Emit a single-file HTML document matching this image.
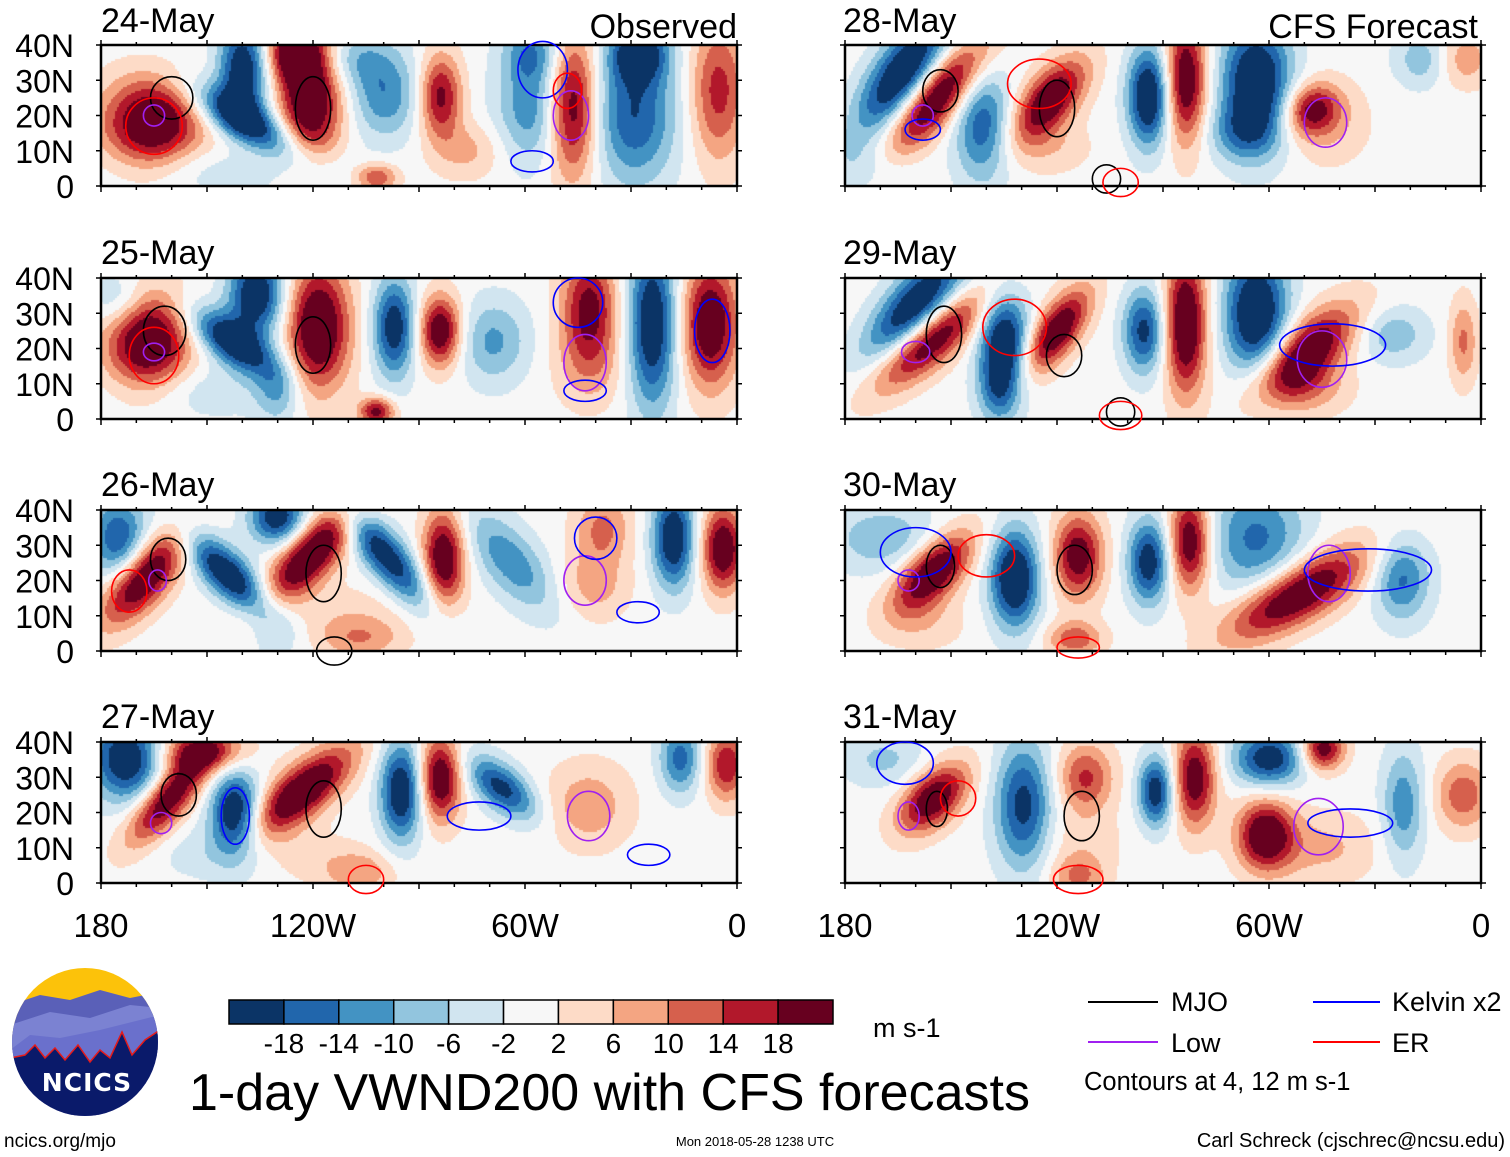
<!DOCTYPE html>
<html><head><meta charset="utf-8">
<style>
html,body{margin:0;padding:0;background:#fff;}
body{width:1510px;height:1157px;position:relative;overflow:hidden;font-family:"Liberation Sans",sans-serif;}
canvas{position:absolute;}
#ov{position:absolute;left:0;top:0;}
</style></head>
<body>
<canvas id="c0" width="636" height="141" style="left:101px;top:45px"></canvas>
<canvas id="c1" width="636" height="141" style="left:101px;top:278px"></canvas>
<canvas id="c2" width="636" height="141" style="left:101px;top:510px"></canvas>
<canvas id="c3" width="636" height="141" style="left:101px;top:742px"></canvas>
<canvas id="c4" width="636" height="141" style="left:845px;top:45px"></canvas>
<canvas id="c5" width="636" height="141" style="left:845px;top:278px"></canvas>
<canvas id="c6" width="636" height="141" style="left:845px;top:510px"></canvas>
<canvas id="c7" width="636" height="141" style="left:845px;top:742px"></canvas>
<svg id="ov" width="1510" height="1157" xmlns="http://www.w3.org/2000/svg">
  <g id="frames"></g>
  <g font-family="Liberation Sans, sans-serif" fill="#000">
    <text x="101" y="32" font-size="34">24-May</text>
    <text x="737" y="38" font-size="34" text-anchor="end">Observed</text>
    <text x="101" y="264" font-size="34">25-May</text>
    <text x="101" y="496" font-size="34">26-May</text>
    <text x="101" y="728" font-size="34">27-May</text>
    <text x="843" y="32" font-size="34">28-May</text>
    <text x="1478" y="38" font-size="34" text-anchor="end">CFS Forecast</text>
    <text x="843" y="264" font-size="34">29-May</text>
    <text x="843" y="496" font-size="34">30-May</text>
    <text x="843" y="728" font-size="34">31-May</text>
  </g>
  <g id="ylabels" font-family="Liberation Sans, sans-serif" font-size="32" text-anchor="end"></g>
  <g id="xlabels" font-family="Liberation Sans, sans-serif" font-size="33" text-anchor="middle"></g>
  <g id="cbar"></g>
  <text x="873" y="1037" font-family="Liberation Sans, sans-serif" font-size="27">m s-1</text>
  <text x="189" y="1110" font-family="Liberation Sans, sans-serif" font-size="52">1-day VWND200 with CFS forecasts</text>
  <g font-family="Liberation Sans, sans-serif" font-size="27">
    <line x1="1088" y1="1002" x2="1158" y2="1002" stroke="#000" stroke-width="2"/>
    <text x="1171" y="1011">MJO</text>
    <line x1="1313" y1="1002" x2="1380" y2="1002" stroke="#0000ff" stroke-width="2"/>
    <text x="1392" y="1011">Kelvin x2</text>
    <line x1="1088" y1="1042" x2="1158" y2="1042" stroke="#a020f0" stroke-width="2"/>
    <text x="1171" y="1052">Low</text>
    <line x1="1313" y1="1042" x2="1380" y2="1042" stroke="#ff0000" stroke-width="2"/>
    <text x="1392" y="1052">ER</text>
    <text x="1084" y="1090" font-size="25.5">Contours at 4, 12 m s-1</text>
  </g>
  <g>
    <defs>
      <clipPath id="lc"><ellipse cx="85" cy="1042" rx="73" ry="74"/></clipPath>
    </defs>
    <g clip-path="url(#lc)">
      <rect x="10" y="966" width="150" height="152" fill="#fcc20a"/>
      <path d="M10 1005 L40 995 L70 1000 L100 990 L130 998 L160 992 L160 1120 L10 1120Z" fill="#5a60b8"/>
      <path d="M10 1025 L50 1012 L90 1018 L130 1005 L160 1008 L160 1120 L10 1120Z" fill="#7b82d2"/>
      <path d="M10 1050 L30 1035 L60 1038 L100 1030 L160 1015 L160 1120 L10 1120Z" fill="#6a70cc"/>
      <path d="M10 1058 L25 1055 L35 1045 L45 1058 L55 1048 L65 1060 L78 1045 L90 1062 L100 1050 L110 1058 L122 1032 L132 1055 L145 1040 L160 1030 L160 1120 L10 1120Z" fill="#0a1a6a" stroke="#e51a1a" stroke-width="1.5"/>
    </g>
    <text x="87" y="1091" font-family="DejaVu Sans, sans-serif" font-weight="bold" font-size="25" fill="#fff" text-anchor="middle" letter-spacing="1">NCICS</text>
  </g>
  <text x="4" y="1147" font-family="Liberation Sans, sans-serif" font-size="19">ncics.org/mjo</text>
  <text x="755" y="1146" font-family="Liberation Sans, sans-serif" font-size="13" text-anchor="middle">Mon 2018-05-28 1238 UTC</text>
  <text x="1505" y="1147" font-family="Liberation Sans, sans-serif" font-size="20" text-anchor="end">Carl Schreck (cjschrec@ncsu.edu)</text>
  <g id="contours"></g>
</svg>
<script>
// ---------- data ----------
const levels = [-18,-14,-10,-6,-2,2,6,10,14,18];
const levelLabels = ["-18","-14","-10","-6","-2","2","6","10","14","18"];
const palette = ["#0b3466","#2166ac","#4393c3","#92c5de","#d1e5f0","#f7f7f7","#fddbc7","#f4a582","#d6604d","#b2182b","#67001f"];
const lonTicks = [-180,-120,-60,0];
const lonTickLabels = ["180","120W","60W","0"];
const latTicks = [0,10,20,30,40];
const latTickLabels = ["0","10N","20N","30N","40N"];
// anomaly blobs: [lon, lat, amplitude m/s, sigmaMajor deg, sigmaMinor deg, angle deg]
const p24 = [[-165.6,17.7,26,7,6.5,0],[-139.7,33,-24,7,3.5,90],[-138.5,18,-24,9,3,-31],[-120.8,25.4,26,9,4.5,90],[-125.5,38,20,4,4,0],[-99.6,25.4,-13,6,5,90],[-109,36,-9,6,4,0],[-84,25.4,20,6,3,90],[-58.3,22.5,-13,8,5,90],[-46.5,22.5,24,10,3.5,90],[-58,38,-11,4,4,0],[-29,20.6,-18,10,6,90],[-27.7,38,-20,4,4,0],[-5.3,27,16,10,4,90],[-146.8,5.3,-6,15,4,0],[-102,2.4,14,3,2,0],[-135,11,5,8,4,0],[-76,10,7,5,4,0]];
const p25 = [[-166.8,22,26,7,6,90],[-175,33.5,-9,4,4,0],[-136,35.4,-24,6,4,90],[-143,22,-24,7,3,-35],[-118.5,26,26,9,4.5,90],[-97,26,-22,7,3,90],[-84,25,24,5,3,90],[-69,22,-11,6,5,90],[-41.8,31.6,20,8,4,90],[-24,27,-24,12,3.5,90],[-7.6,27,24,9,4,90],[-41.8,14.5,6,6,5,90],[-130,8,-9,5,3,90],[-102,2.1,20,2.5,2,0],[-152.6,8,-5,12,4,0]];
const p26 = [[-175,32,-18,6,4,90],[-168,20.6,26,8,3.5,50],[-144,21.6,-24,8,3,-45],[-130,38,-22,4,4,0],[-120.8,27.3,26,10,3.5,48],[-99.6,27.3,-22,10,3,-50],[-83,26.4,24,7,3,90],[-64,25.4,-13,9,4,-50],[-38,35,11,5,4,90],[-40.6,18.7,8,5,5,0],[-18,32,-24,7,3,90],[-4,29,24,6,3,90],[-106.7,3.4,9,6,3,0],[-111,11,4,10,4,0],[-131.5,10,-6,6,4,90]];
const p27 = [[-172.7,35.4,-24,6,5,90],[-161,24,24,8,3,50],[-151.5,37.3,18,6,3,0],[-142,20,-24,6,3.5,90],[-123,26,26,9,3.5,40],[-95,26,-24,7,3,90],[-84,29.7,24,6,3,90],[-66.6,27,-20,6,3,-40],[-42,22,9,6,6,0],[-16,35.4,-16,5,3,90],[-3,33.5,18,5,3,90],[-106.7,3,9,5,3,0],[-123,8,4,8,4,0],[-146.7,8,-5,8,4,0]];
const p28 = [[-163.5,32,-26,10,4,55],[-154,25.4,26,10,3.5,50],[-141,17,-17,8,4,90],[-122,24.5,24,7,3.5,50],[-122,11,5,6,4,0],[-94,25.4,-26,7,3,90],[-83.6,30,24,9,3,90],[-63.6,29,-26,9,5,90],[-68,15,-9,5,4,0],[-48,21.6,18,4,3.5,30],[-43.6,17.7,6,6,6,0],[-16.5,36,-9,4,4,0],[-4.8,36,9,4,4,0],[-174,5.3,-5,6,4,0]];
const p29 = [[-160,31.6,-26,10,4,50],[-156.5,22,26,10,3.5,40],[-135,22,-24,7,3.5,90],[-136.5,8,-13,5,3,90],[-120,25,24,7,3,55],[-95.3,25,-20,6,3,90],[-83.6,27,26,10,3,90],[-63.6,30,-26,9,4.5,90],[-49.5,19,24,9,4,40],[-49.5,9,9,6,4,0],[-25,24,-9,5,4,0],[-5,22,11,6,2,90]];
const p30 = [[-169,32,-9,8,5,0],[-155,22.5,26,7,3.5,45],[-132,20.6,-26,7,3.5,90],[-114,27,22,6,3.5,90],[-94,25.4,-22,6,3,90],[-82.4,31,24,7,3,90],[-63.6,32,-15,8,7,90],[-52,16,26,11,4,30],[-22.4,20.6,-15,6,4,90],[-115,3.4,13,4,2.5,0],[-157.6,8,5,6,4,0]];
const p31 = [[-169,35,-7,6,4,0],[-155,24,24,6,3.5,45],[-129.5,22,-20,9,4,90],[-112,29.7,15,5,4,90],[-92,26,-22,5,2.5,90],[-81,29.7,22,7,3,90],[-60,35.4,-22,5,4,0],[-44.8,38,22,3,3,0],[-61,13.6,24,5,4,90],[-45,10,7,8,5,0],[-22,22,-13,8,3,90],[-5,25,13,5,4,90],[-114,2,11,4,3,0],[-113,12,4,6,4,0]];
const panelBlobs = [p24,p25,p26,p27,p28,p29,p30,p31];
// contours: [type, lon, lat, rx deg, ry deg]
const c24 = [["mjo",-160,25,6,6],["low",-165,20,3,3],["er",-165,17,8,8],["mjo",-120,22,5,9],["low",-47,20,5,7],["kelvin",-55,33,7,8],["er",-48,27,4,5],["kelvin",-58,7,6,3]];
const c25 = [["mjo",-162,25,6,7],["low",-165,19,3,2.5],["er",-165,18,7,8],["mjo",-120,21,5,8],["low",-43,16,6,8],["kelvin",-45,33,7,7],["kelvin",-43,8,6,3],["kelvin",-7,25,5,9]];
const c26 = [["mjo",-161,26,5,6],["low",-164,20,2.5,3],["er",-172,17,5,6],["mjo",-117,22,5,8],["low",-43,20,6,7],["kelvin",-40,32,6,6],["kelvin",-28,11,6,3],["mjo",-114,0,5,4]];
const c27 = [["mjo",-158,25,5,6],["low",-163,17,3,3],["mjo",-117,21,5,8],["low",-42,19,6,7],["kelvin",-142,19,4,8],["kelvin",-73,19,9,4],["er",-105,1,5,4],["kelvin",-25,8,6,3]];
const c28 = [["mjo",-153,27,5,6],["low",-158,20,3,3],["mjo",-120,22,5,8],["low",-44,18,6,7],["er",-125,29,9,7],["kelvin",-158,16,5,3],["mjo",-106,2,4,4],["er",-102,1,5,4]];
const c29 = [["mjo",-152,24,5,8],["low",-160,19,4,3],["mjo",-118,18,5,6],["low",-45,17,7,8],["er",-132,26,9,8],["kelvin",-42,21,15,6],["mjo",-102,2,4,4],["er",-102,1,6,4]];
const c30 = [["mjo",-153,24,4,6],["low",-162,20,3,3],["er",-140,27,8,6],["mjo",-115,23,5,7],["low",-43,22,6,8],["kelvin",-32,23,18,6],["kelvin",-160,28,10,7],["er",-114,1,6,3]];
const c31 = [["mjo",-154,21,3,5],["low",-162,19,3,4],["er",-148,24,5,5],["mjo",-113,19,5,7],["low",-46,16,7,8],["kelvin",-37,17,12,4],["kelvin",-163,34,8,6],["er",-114,1,7,4]];
const panelContours = [c24,c25,c26,c27,c28,c29,c30,c31];
const panelOrigins = [[101,45],[101,278],[101,510],[101,742],[845,45],[845,278],[845,510],[845,742]];
const panelTitles = ["24-may","25-may","26-may","27-may","28-may","29-may","30-may","31-may"];

// ---------- axis functions ----------
const W = 636, H = 141;
const SPREAD = 1.4;
function xScale(lon){ return (lon + 180) / 180 * W; }
function yScale(lat){ return H - lat / 40 * H; }
function colorFor(v){ let i=0; while(i<levels.length && v>=levels[i]) i++; return palette[i]; }
function field(blobs, lon, lat){
  let s = 0;
  for(const b of blobs){
    const a = b[5]*Math.PI/180, dx = lon-b[0], dy = lat-b[1];
    const u = dx*Math.cos(a)+dy*Math.sin(a), w = -dx*Math.sin(a)+dy*Math.cos(a);
    const s1 = b[3]*SPREAD, s2 = b[4]*SPREAD;
    s += b[2]*Math.exp(-0.5*(u*u/(s1*s1) + w*w/(s2*s2)));
  }
  return s;
}
// ---------- heatmaps ----------
const step = 2;
panelBlobs.forEach((blobs, k) => {
  const ctx = document.getElementById('c'+k).getContext('2d');
  for(let px=0; px<W; px+=step){
    for(let py=0; py<H; py+=step){
      const lon = -180 + (px+step/2)/W*180, lat = 40 - (py+step/2)/H*40;
      ctx.fillStyle = colorFor(field(blobs, lon, lat));
      ctx.fillRect(px, py, step, step);
    }
  }
});
// ---------- overlay ----------
const NS = "http://www.w3.org/2000/svg";
function mk(tag, attrs, parent){ const e=document.createElementNS(NS,tag); for(const k in attrs) e.setAttribute(k, attrs[k]); parent.appendChild(e); return e; }
const frames = document.getElementById('frames');
const contG = document.getElementById('contours');
const colMap = {mjo:"#000000", low:"#a020f0", kelvin:"#0000ff", er:"#ff0000"};
panelOrigins.forEach((o, k) => {
  const g = mk('g', {transform:`translate(${o[0]},${o[1]})`}, frames);
  
  
  const cg = mk('g', {transform:`translate(${o[0]},${o[1]})`, fill:"none", "stroke-width":"1.6"}, contG);
  
  
  panelContours[k].forEach(c => {
    const e = mk('ellipse', {cx:xScale(c[1]), cy:yScale(c[2]), rx:c[3]*W/180, ry:c[4]*H/40, stroke:colMap[c[0]]}, cg);
    
    
  });
  for(let lon=-180; lon<=0; lon+=10){
    const x = xScale(lon), major = lon%30===0;
    mk('line', {x1:x, y1:H, x2:x, y2:H+(major?6:4), stroke:"#000", "stroke-width":"1.5"}, g);
    mk('line', {x1:x, y1:0, x2:x, y2:-(major?5:3), stroke:"#000", "stroke-width":"1.5"}, g);
  }
  for(let lat=0; lat<=40; lat+=10){
    const y = yScale(lat);
    mk('line', {x1:-5, y1:y, x2:0, y2:y, stroke:"#000", "stroke-width":"1.5"}, g);
    mk('line', {x1:W, y1:y, x2:W+5, y2:y, stroke:"#000", "stroke-width":"1.5"}, g);
  }
  const r = mk('rect', {x:0, y:0, width:W, height:H, fill:"none", stroke:"#000", "stroke-width":"2.5"}, g);
  
  
});
const yl = document.getElementById('ylabels');
[45,278,510,742].forEach(top => {
  latTicks.forEach((lat, i) => {
    const t = mk('text', {x:74, y: top + yScale(lat) + 12}, yl);
    t.textContent = latTickLabels[i];
    
    
  });
});
const xl = document.getElementById('xlabels');
[101,845].forEach(left => {
  lonTicks.forEach((lon, i) => {
    const t = mk('text', {x: left + xScale(lon), y: 937}, xl);
    t.textContent = lonTickLabels[i];
    
    
  });
});
const cb = document.getElementById('cbar');
const cbX = 229, cbW = 604, cbY = 1000, cbH = 24, bw = cbW / palette.length;
palette.forEach((c, i) => {
  const r = mk('rect', {x: cbX + i*bw, y: cbY, width: bw, height: cbH, fill: c, stroke:"#000", "stroke-width":"1.5"}, cb);
  
  
});
levelLabels.forEach((l, i) => {
  const t = mk('text', {x: cbX + (i+1)*bw, y: 1053, "font-family":"Liberation Sans, sans-serif", "font-size":"28", "text-anchor":"middle"}, cb);
  t.textContent = l;
  
  
});
</script>
</body></html>
